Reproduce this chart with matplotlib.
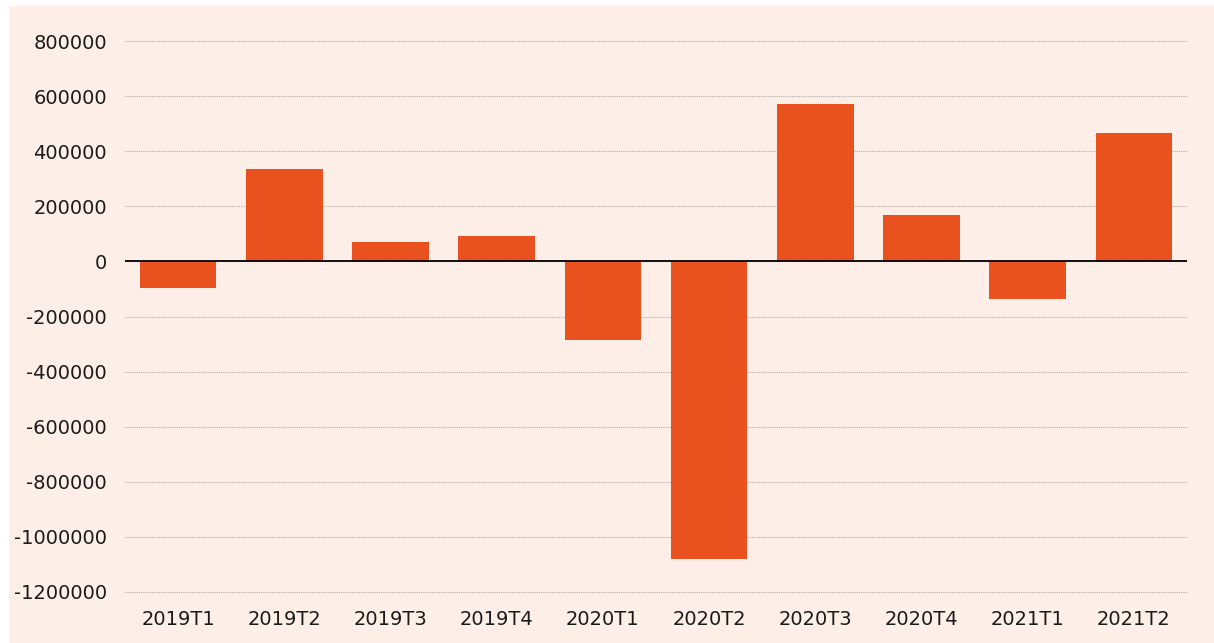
import matplotlib
matplotlib.use("Agg")
import matplotlib.pyplot as plt
from matplotlib.patches import Rectangle

# quarterly values
quarters = ["2019T1", "2019T2", "2019T3", "2019T4", "2020T1",
            "2020T2", "2020T3", "2020T4", "2021T1", "2021T2"]
values = [-95000, 335000, 69000, 91000, -286000,
          -1079000, 571000, 167000, -138000, 465000]
yticks = [800000, 600000, 400000, 200000, 0, -200000, -400000,
          -600000, -800000, -1000000, -1200000]

bg = "#fdeee7"
bar_color = "#e9521e"
text_color = "#1a1a1a"

W, H = 1214, 643
fig = plt.figure(figsize=(W / 100, H / 100), dpi=100, facecolor="white")
# peach panel, leaving a thin white strip at top and left
fig.patches.append(Rectangle((9 / W, 0), 1 - 9 / W, 1 - 6 / H,
                             transform=fig.transFigure, facecolor=bg,
                             edgecolor="none", zorder=-1))

top_px, bottom_px = 38.25, 594.75
ax = fig.add_axes([125 / W, 1 - bottom_px / H, (1187 - 125) / W,
                   (bottom_px - top_px) / H])
ax.set_zorder(1)
ax.set_facecolor("none")

ax.bar(range(len(quarters)), values, width=0.72, color=bar_color, zorder=2)
ax.axhline(0, color="black", lw=1.3, zorder=3)

ax.set_xlim(-0.5, len(quarters) - 0.5)
ax.set_ylim(-1210000, 810000)
ax.set_yticks(yticks)
ax.set_yticklabels([str(v) for v in yticks])
ax.set_xticks(range(len(quarters)))
ax.set_xticklabels(quarters)

ax.grid(axis="y", color="#b5aca5", lw=0.8, linestyle=(0, (1, 1)), zorder=1)
ax.set_axisbelow(True)
for s in ax.spines.values():
    s.set_visible(False)
ax.tick_params(axis="both", length=0, labelsize=14, labelcolor=text_color)
ax.tick_params(axis="y", pad=13)
ax.tick_params(axis="x", pad=11)

fig.savefig("out.png", dpi=100, facecolor=fig.get_facecolor())
